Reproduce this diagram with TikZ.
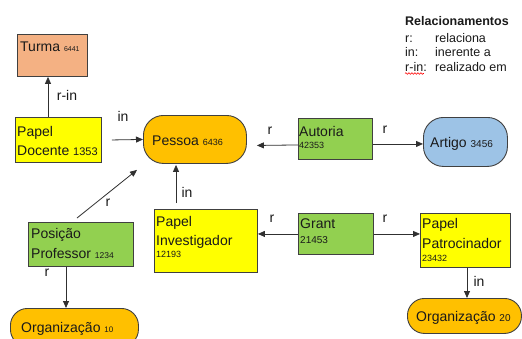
\documentclass[tikz,border=0pt]{standalone}
\usepackage{fontspec}
\setmainfont{Liberation Sans}
\usetikzlibrary{arrows.meta,decorations.pathmorphing}
\definecolor{salmon}{HTML}{F4B183}
\definecolor{yel}{HTML}{FFFF00}
\definecolor{grn}{HTML}{92D050}
\definecolor{org}{HTML}{FFC000}
\definecolor{blu}{HTML}{9DC3E6}
\definecolor{bordc}{HTML}{404040}
\definecolor{linec}{HTML}{303030}
\definecolor{txtc}{HTML}{1A1A1A}
\begin{document}
\begin{tikzpicture}[x=1pt,y=-1pt,
  shp/.style={draw=bordc, line width=0.9pt, inner sep=0pt, anchor=north west},
  rnd/.style={shp, rounded corners=#1},
  txt/.style={inner sep=0pt, anchor=base west, text=txtc, font=\fontsize{14}{16}\selectfont},
  lbl/.style={inner sep=0pt, text=txtc, font=\fontsize{14}{16}\selectfont},
  leg/.style={inner sep=0pt, anchor=base west, text=txtc, font=\fontsize{12.5}{14}\selectfont},
  arr/.style={draw=linec, line width=0.8pt, -{Triangle[length=7pt,width=6pt]}},
]
\path[use as bounding box, clip] (0,0) rectangle (522,338);
\fill[white] (0,0) rectangle (522,338);

% shapes
\node[shp, fill=salmon, minimum width=70pt, minimum height=42pt] (turma) at (17,34) {};
\node[shp, fill=yel, minimum width=86pt, minimum height=45pt] (pdoc) at (15,117) {};
\node[rnd=20pt, fill=org, minimum width=103pt, minimum height=48pt] (pessoa) at (143,115) {};
\node[shp, fill=grn, minimum width=74pt, minimum height=41pt] (autoria) at (298,118) {};
\node[rnd=20pt, fill=blu, minimum width=84pt, minimum height=49pt] (artigo) at (423,117) {};
\node[shp, fill=grn, minimum width=105pt, minimum height=44pt] (posicao) at (28,222) {};
\node[shp, fill=yel, minimum width=103pt, minimum height=63pt] (pinv) at (154,209) {};
\node[shp, fill=grn, minimum width=75pt, minimum height=41pt] (grant) at (298,213) {};
\node[shp, fill=yel, minimum width=90pt, minimum height=54pt] (ppat) at (420,213) {};
\node[rnd=17pt, fill=org, minimum width=128pt, minimum height=38pt] (orgA) at (10,308) {};
\node[rnd=17pt, fill=org, minimum width=114pt, minimum height=35pt] (orgB) at (407,298) {};

% texts
\node[txt] (tTurma) at (20,51) {Turma {\fontsize{7}{8}\selectfont 6441}};
\node[txt] (tPd1) at (17,136) {Papel};
\node[txt] (tPd2) at (17,155) {Docente {\fontsize{11}{12}\selectfont 1353}};
\node[txt] (tPes) at (152,145) {Pessoa {\fontsize{9}{10}\selectfont 6436}};
\node[txt] (tAut1) at (299,136) {Autoria};
\node[txt, font=\fontsize{9}{10}\selectfont] (tAut2) at (299,148) {42353};
\node[txt] (tArt) at (430,147) {Artigo {\fontsize{10}{11}\selectfont 3456}};
\node[txt] (tPos1) at (31,238) {Posição};
\node[txt] (tPos2) at (31,258) {Professor {\fontsize{8.5}{9}\selectfont 1234}};
\node[txt] (tPi1) at (156,226) {Papel};
\node[txt] (tPi2) at (156,245) {Investigador};
\node[txt, font=\fontsize{9}{10}\selectfont] (tPi3) at (156,257) {12193};
\node[txt] (tGr1) at (300,228) {Grant};
\node[txt, font=\fontsize{10}{11}\selectfont] (tGr2) at (300,243) {21453};
\node[txt] (tPp1) at (422,228) {Papel};
\node[txt] (tPp2) at (422,248) {Patrocinador};
\node[txt, font=\fontsize{9}{10}\selectfont] (tPp3) at (422,261) {23432};
\node[txt] (tOrgA) at (21,332) {Organização {\fontsize{8}{9}\selectfont 10}};
\node[txt] (tOrgB) at (416,321) {Organização {\fontsize{10}{11}\selectfont 20}};

% connectors
\draw[arr] ([xshift=33pt]pdoc.north west) -- ([xshift=31pt]turma.south west);
\draw[arr] ([xshift=10pt]pdoc.east) -- (pessoa.west);
\draw[arr] ([yshift=-6pt]autoria.west) -- ([xshift=10pt,yshift=-6pt]pessoa.east);
\draw[arr] ([yshift=-5pt]autoria.east) -- ([yshift=-2pt]artigo.west);
\draw[arr] ([xshift=22pt,yshift=6pt]pinv.north west) -- ([xshift=33pt,yshift=-1pt]pessoa.south west);
\draw[arr] ([xshift=49pt,yshift=4pt]posicao.north west) -- ([xshift=-6pt,yshift=-6pt]pessoa.south west);
\draw[arr] ([xshift=38pt]posicao.south west) -- ([xshift=56pt]orgA.north west);
\draw[arr] (grant.west) -- ([yshift=7pt]pinv.east);
\draw[arr] (grant.east) -- ([yshift=6.5pt]ppat.west);
\draw[arr] ([xshift=47pt]ppat.south west) -- ([xshift=60pt]orgB.north west);

% connector labels
\node[lbl] (lRin) at (67,95) {r-in};
\node[lbl] (lIn1) at (123,116) {in};
\node[lbl] (lR1) at (270,131) {r};
\node[lbl] (lR2) at (385,130) {r};
\node[lbl] (lIn2) at (187,192) {in};
\node[lbl] (lR3) at (108,203) {r};
\node[lbl] (lR4) at (47,273) {r};
\node[lbl] (lR5) at (272,219) {r};
\node[lbl] (lR6) at (385,219) {r};
\node[lbl] (lIn3) at (479,281) {in};

% legend
\node[leg, font=\fontsize{12.5}{14}\bfseries] (legT) at (405,25) {Relacionamentos};
\node[leg] (legA1) at (405,42) {r:};
\node[leg] (legA2) at (435,42) {relaciona};
\node[leg] (legB1) at (405,56) {in:};
\node[leg] (legB2) at (435,56) {inerente a};
\node[leg] (legC1) at (405,71) {r-in:};
\node[leg] (legC2) at (435,71) {realizado em};
\draw[red, line width=0.6pt, decorate, decoration={snake, amplitude=0.8pt, segment length=3pt}]
  ([yshift=-2.5pt]legC1.base west) -- ([xshift=-3pt,yshift=-2.5pt]legC1.base east);
\end{tikzpicture}
\end{document}
